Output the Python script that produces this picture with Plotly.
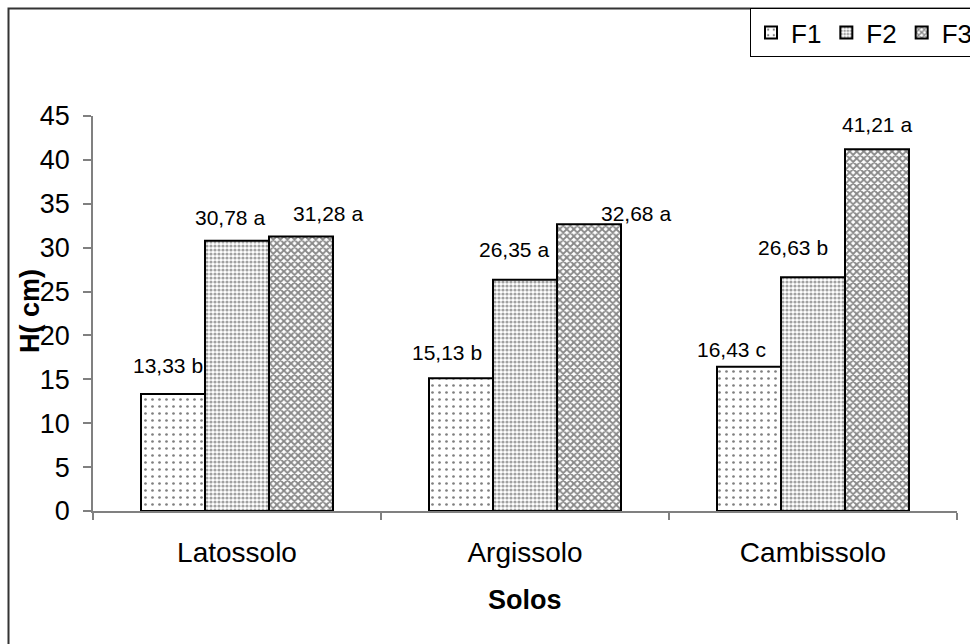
import plotly.graph_objects as go

# Soil types on the x axis and plant height (cm) per treatment
solos = ["Latossolo", "Argissolo", "Cambissolo"]
series_names = ["F1", "F2", "F3"]
f1 = [13.33, 15.13, 16.43]
f2 = [30.78, 26.35, 26.63]
f3 = [31.28, 32.68, 41.21]
letters_f1 = ["b", "b", "c"]
letters_f2 = ["a", "a", "b"]
letters_f3 = ["a", "a", "a"]
y_ticks = [0, 5, 10, 15, 20, 25, 30, 35, 40, 45]

values = [f1, f2, f3]
letters = [letters_f1, letters_f2, letters_f3]

# figure geometry (pixels)
W, H = 970, 644
ML, MR, MT, MB = 93, 13, 116, 133
PW, PH = W - ML - MR, H - MT - MB
BARGAP = 1 / 3

FONT = "Arial, 'Liberation Sans', sans-serif"

patterns = [
    dict(shape=".", size=7, solidity=0.12, fgcolor="#000000", bgcolor="#ffffff", fillmode="overlay"),
    dict(shape=".", size=4, solidity=0.5, fgcolor="#444444", bgcolor="#ffffff", fillmode="overlay"),
    dict(shape="x", size=5, solidity=0.6, fgcolor="#111111", bgcolor="#ffffff", fillmode="overlay"),
]

fig = go.Figure()
for name, vals, pat in zip(series_names, values, patterns):
    fig.add_trace(go.Bar(
        x=solos, y=vals, name=name,
        marker=dict(color="#ffffff", pattern=pat, line=dict(color="#000000", width=2)),
        hoverinfo="skip",
    ))

# hand-placed value labels: (dx from bar centre, dy above bar top) in px
label_offsets = [
    [(-5, 28), (-14, 26), (-18, 17)],
    [(-7, 23), (-11, 30), (-20, 30)],
    [(27, 23), (47, 11), (0, 25)],
]
cat_px = PW / len(solos)
bar_px = cat_px * (1 - BARGAP) / len(series_names)
annotations = []
for s, (vals, lets) in enumerate(zip(values, letters)):
    bar_shift = (s - 1) * bar_px
    for c, (v, l) in enumerate(zip(vals, lets)):
        dx, dy = label_offsets[s][c]
        annotations.append(dict(
            x=solos[c], y=v, xref="x", yref="y",
            text=f"{v:.2f}".replace(".", ",") + " " + l,
            showarrow=False, xanchor="center", yanchor="middle",
            xshift=bar_shift + dx, yshift=dy,
            font=dict(family=FONT, size=21, color="#000000"),
        ))

# axis titles
annotations.append(dict(
    text="<b>Solos</b>", x=0.5, y=-(600 - (MT + PH)) / PH, xref="paper", yref="paper",
    showarrow=False, xanchor="center", yanchor="middle",
    font=dict(family=FONT, size=27, color="#000000"),
))
annotations.append(dict(
    text="<b>H( cm)</b>", x=(30 - ML) / PW, y=0.5 - (311 - (MT + PH / 2)) / PH,
    xref="paper", yref="paper", textangle=-90,
    showarrow=False, xanchor="center", yanchor="middle",
    font=dict(family=FONT, size=27, color="#000000"),
))

fig.update_layout(
    width=W, height=H,
    margin=dict(l=ML, r=MR, t=MT, b=MB, autoexpand=False),
    paper_bgcolor="#ffffff", plot_bgcolor="#ffffff",
    barmode="group", bargap=BARGAP, bargroupgap=0,
    font=dict(family=FONT, color="#000000"),
    showlegend=True,
    legend=dict(
        orientation="h", x=(750 - ML) / PW, xanchor="left",
        y=(MT + PH - 8) / PH, yanchor="top",
        bordercolor="#000000", borderwidth=1, bgcolor="#ffffff",
        font=dict(family=FONT, size=26, color="#000000"),
        traceorder="normal",
    ),
    annotations=annotations,
    shapes=[dict(
        type="rect", xref="paper", yref="paper",
        x0=(8.5 - ML) / PW, x1=1.2, y0=-0.5, y1=(MT + PH - 8.5) / PH,
        line=dict(color="#333333", width=2), fillcolor="rgba(0,0,0,0)", layer="below",
    )],
)

fig.update_xaxes(
    showline=True, linecolor="#808080", linewidth=1.5,
    ticks="outside", tickson="boundaries", ticklen=7, tickcolor="#808080", tickwidth=1.5,
    tickfont=dict(family=FONT, size=28, color="#000000"),
    ticklabelstandoff=16, showgrid=False, zeroline=False,
)
fig.update_yaxes(
    range=[0, 45], tickvals=y_ticks, ticktext=[str(t) for t in y_ticks],
    showline=True, linecolor="#808080", linewidth=1.5,
    ticks="outside", ticklen=8, tickcolor="#808080", tickwidth=1.5,
    tickfont=dict(family=FONT, size=27, color="#000000"),
    ticklabelstandoff=8, showgrid=False, zeroline=False,
)

fig.write_html("out.html")
